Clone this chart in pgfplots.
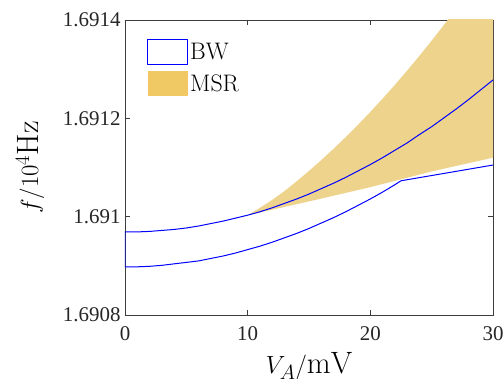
\documentclass[border=0pt]{standalone}
\usepackage{pgfplots}
\pgfplotsset{compat=1.18}
\usepackage{fontspec}
\newfontfamily\tickfont{Liberation Serif}
\definecolor{msrfill}{RGB}{237,211,140}
\definecolor{msrleg}{RGB}{240,200,100}
\definecolor{axgray}{RGB}{60,60,60}
\begin{document}
\begin{tikzpicture}
\begin{axis}[
  scale only axis, width=368bp, height=295bp,
  xmin=0, xmax=30, ymin=1.6908, ymax=1.6914,
  xtick={0,10,20,30}, xticklabels={0,10,20,30},
  ytick={1.6908,1.691,1.6912,1.6914}, yticklabels={1.6908,1.691,1.6912,1.6914},
  /pgf/number format/assume math mode=true,
  tick align=inside, major tick length=5bp,
  axis line style={axgray, line width=0.7bp},
  every tick/.style={axgray, line width=0.7bp},
  ticklabel style={font=\tickfont\fontsize{21}{24}\selectfont, text=black!85},
  xticklabel style={yshift=-8bp},
  yticklabel style={xshift=-1bp},
  label style={font=\fontsize{31}{36}\selectfont},
  xlabel={$V_A/\mathrm{mV}$},
  ylabel={$f/10^4\mathrm{Hz}$},
  xlabel style={at={(axis description cs:0.5,0)}, anchor=center, yshift=-51bp},
  ylabel style={at={(axis description cs:0,0.5)}, anchor=center, yshift=95bp},
  reverse legend,
  legend style={at={(axis description cs:0,1)}, anchor=north west, xshift=19bp, yshift=-17bp,
    draw=none, fill=none, font=\fontsize{24}{28}\selectfont, row sep=6bp,
    nodes={inner xsep=2bp, inner ysep=0bp}},
  legend cell align=left,
]
\addplot[fill=msrfill, draw=none,
  legend image code/.code={\fill[msrleg] (0bp,-12.5bp) rectangle (40bp,12.5bp);}]
coordinates {
(10,1.691003) (11,1.691018) (12,1.691034) (13,1.691052) (14,1.691072)
(15,1.691093) (16,1.691115) (17,1.691138) (18,1.691162) (19,1.691187)
(20,1.691213) (21,1.691240) (22,1.691268) (23,1.691297) (24,1.691327)
(25,1.691358) (26,1.691390) (27,1.691423) (28,1.691457) (29,1.691492)
(30,1.691528)
(30,1.691120) (25,1.691092) (22.5,1.691076) (20,1.691060) (15,1.691031) (10,1.691003)
} -- cycle;
\addlegendentry{MSR}
\addplot[blue, line width=1bp, line join=round,
  legend image code/.code={\draw[blue, fill=white, line width=1bp] (0bp,-12.5bp) rectangle (40bp,12.5bp);}]
coordinates {
(30,1.691105) (22.5,1.691073) (22,1.691065) (21,1.691050) (20,1.691036) (19,1.691023) (18,1.691010)
(17,1.690998) (16,1.690987) (15,1.690976) (14,1.690966) (13,1.690957) (12,1.690948) (11,1.690940) (10,1.690933) (9,1.690926) (8,1.690920)
(7,1.690915) (6,1.690910) (5,1.690907) (4,1.690904) (3,1.690901) (2,1.690899) (1,1.690898) (0,1.690898)
(0,1.690969) (1,1.690969) (2,1.690970) (3,1.690972) (4,1.690974) (5,1.690977) (6,1.690981) (7,1.690986) (8,1.690991)
(9,1.690997) (10,1.691003) (11,1.691010) (12,1.691018) (13,1.691027) (14,1.691036) (15,1.691046) (16,1.691057) (17,1.691068) (18,1.691080)
(19,1.691093) (20,1.691106) (21,1.691120) (22,1.691135) (23,1.691150) (24,1.691167) (25,1.691183) (26,1.691201) (27,1.691219) (28,1.691238)
(29,1.691258) (30,1.691278)
};
\addlegendentry{BW}
\coordinate (SW) at (rel axis cs:0,0);
\coordinate (NE) at (rel axis cs:1,1);
\end{axis}
\pgfresetboundingbox
\useasboundingbox ([shift={(-125bp,-70bp)}]SW) rectangle ([shift={(10bp,20bp)}]NE);
\end{tikzpicture}
\end{document}
